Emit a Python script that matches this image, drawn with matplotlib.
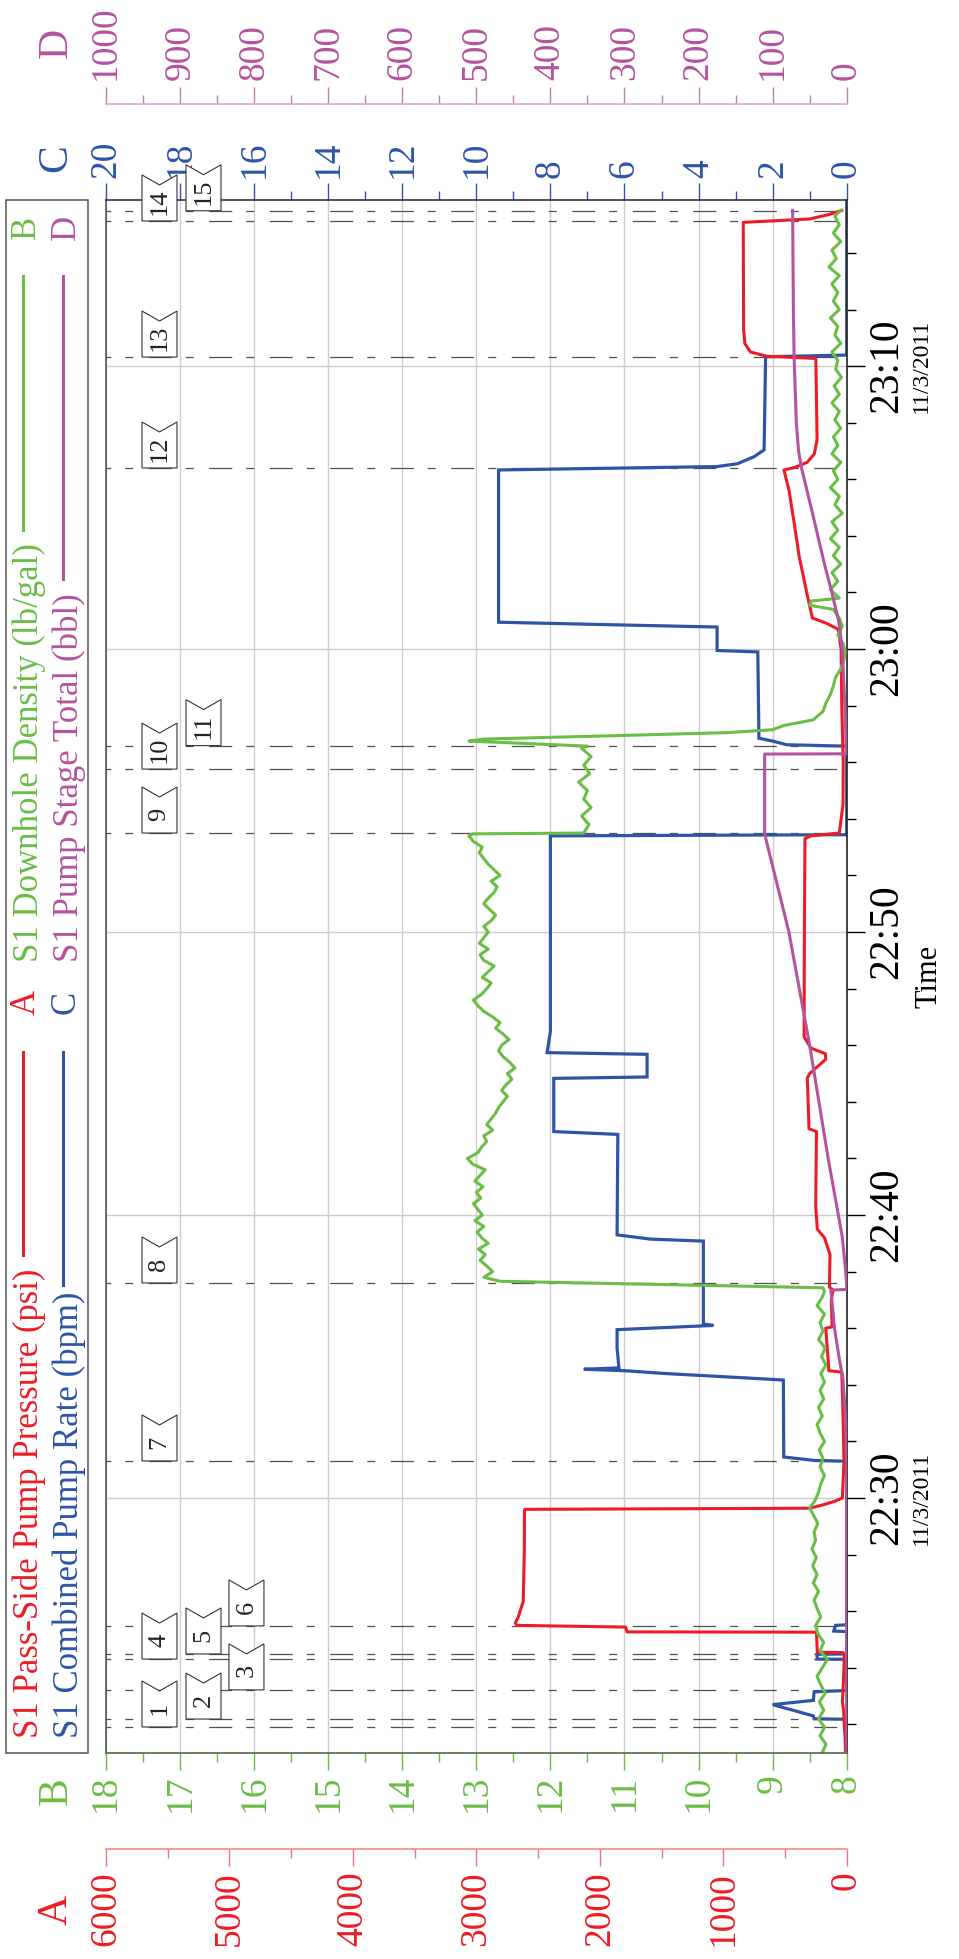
import matplotlib
matplotlib.use("Agg")
import matplotlib.pyplot as plt
import matplotlib.transforms as mtransforms
from matplotlib.patches import Polygon, Rectangle
from matplotlib.lines import Line2D
from matplotlib.ticker import MultipleLocator

plt.rcParams["font.family"] = ["Liberation Serif", "DejaVu Serif"]

# time is in minutes after 22:30 on 11/3/2011
t_press = [-9.01, -8.5, -8.0, -7.5, -7.2, -6.8, -6.0, -5.6, -5.46, -5.45, -4.74, -4.73,
           -4.56, -4.5, -4.42, -4.2, -3.65, -2.0, -0.5, -0.4, -0.36, -0.25, -0.12, 0.0,
           1.3, 3.0, 4.45, 4.5, 5.0, 6.0, 6.05, 7.0, 7.35, 7.45, 8.0, 8.6, 9.2, 9.5, 10.3,
           12.95, 13.05, 14.85, 15.0, 15.5, 15.7, 15.9, 16.3, 20.0, 23.3, 23.4, 23.5, 24.5,
           26.0, 28.0, 30.0, 30.7, 30.9, 31.1, 31.9, 33.3, 34.5, 35.6, 36.33, 36.42, 36.6,
           36.9, 37.4, 40.27, 40.35, 40.5, 40.8, 41.3, 45.08, 45.2, 45.35, 45.5]
pressure = [10, 12, 20, 25, 35, 30, 22, 20, 30, 238, 245, 1780,
            1790, 2670, 2685, 2660, 2620, 2612, 2610, 2608, 300, 200, 100, 35,
            22, 30, 40, 145, 152, 170, 118, 125, 110, 140, 138, 135, 180, 238, 251,
            245, 305, 319, 300, 170, 172, 290, 345, 343, 338, 290, 60, 30,
            28, 40, 45, 70, 157, 278, 319, 386, 427, 467, 508, 420, 320,
            262, 240, 250, 650, 780, 825, 835, 838, 300, 150, 40]

# downhole density, (time, lb/gal) pairs
density_pts = [
    (-9.0, 8.33), (-8.7, 8.28), (-8.4, 8.36), (-8.1, 8.30), (-7.8, 8.38), (-7.5, 8.31),
    (-7.2, 8.37), (-6.9, 8.29), (-6.6, 8.35), (-6.3, 8.40), (-6.0, 8.33), (-5.7, 8.26),
    (-5.4, 8.36), (-5.1, 8.31), (-4.8, 8.39), (-4.5, 8.42), (-4.2, 8.35), (-3.9, 8.40),
    (-3.6, 8.44), (-3.3, 8.38), (-3.0, 8.45), (-2.7, 8.40), (-2.4, 8.46), (-2.1, 8.41),
    (-1.8, 8.47), (-1.5, 8.42), (-1.2, 8.44), (-0.9, 8.39), (-0.6, 8.45), (-0.35, 8.50),
    (-0.1, 8.43), (0.2, 8.38), (0.5, 8.35), (0.8, 8.30), (1.1, 8.36), (1.4, 8.32),
    (1.7, 8.37), (2.0, 8.30), (2.3, 8.36), (2.6, 8.40), (2.9, 8.33), (3.2, 8.38),
    (3.5, 8.31), (3.8, 8.36), (4.1, 8.30), (4.4, 8.35), (4.7, 8.28), (5.0, 8.34),
    (5.3, 8.29), (5.6, 8.38), (5.9, 8.32), (6.2, 8.36), (6.5, 8.30), (6.8, 8.40),
    (7.1, 8.33), (7.3, 8.30), (7.43, 8.32),
    (7.66, 12.68), (7.8, 12.90), (8.0, 12.78), (8.2, 12.86), (8.4, 12.95), (8.6, 12.88),
    (8.8, 12.97), (9.0, 12.84), (9.2, 12.93), (9.4, 12.99), (9.6, 12.90), (9.8, 13.02),
    (10.0, 12.92), (10.2, 12.98), (10.4, 13.04), (10.6, 12.94), (10.8, 13.00), (11.0, 12.91),
    (11.2, 13.02), (11.4, 12.95), (11.6, 12.88), (11.8, 13.05), (12.0, 13.12), (12.2, 12.98),
    (12.4, 12.93), (12.6, 12.86), (12.8, 12.90), (13.0, 12.78), (13.2, 12.86), (13.4, 12.80),
    (13.6, 12.74), (13.8, 12.70), (14.0, 12.64), (14.2, 12.58), (14.4, 12.66), (14.6, 12.60),
    (14.8, 12.52), (15.0, 12.58), (15.2, 12.48), (15.4, 12.55), (15.6, 12.64), (15.8, 12.70),
    (16.0, 12.66), (16.2, 12.56), (16.4, 12.64), (16.6, 12.74), (16.8, 12.68), (17.0, 12.78),
    (17.2, 12.90), (17.4, 12.98), (17.6, 13.04), (17.8, 12.93), (18.0, 12.86), (18.2, 12.80),
    (18.4, 12.92), (18.6, 12.84), (18.8, 12.76), (19.0, 12.90), (19.2, 12.95), (19.4, 12.84),
    (19.6, 12.96), (19.8, 12.90), (20.0, 12.84), (20.2, 12.90), (20.4, 12.80), (20.6, 12.74),
    (20.8, 12.82), (21.0, 12.90), (21.2, 12.84), (21.4, 12.76), (21.6, 12.72), (21.8, 12.80),
    (22.0, 12.68), (22.2, 12.76), (22.4, 12.84), (22.6, 12.90), (22.8, 12.96), (23.0, 12.92),
    (23.2, 13.04), (23.4, 13.10), (23.47, 13.05),
    (23.5, 11.55), (23.8, 11.48), (24.1, 11.58), (24.4, 11.45), (24.7, 11.55), (25.0, 11.50),
    (25.3, 11.62), (25.6, 11.47), (25.9, 11.55), (26.2, 11.45), (26.5, 11.58), (26.57, 11.50),
    (26.75, 13.10), (26.82, 12.90), (26.95, 11.0), (27.05, 9.6), (27.15, 9.0), (27.3, 8.85),
    (27.5, 8.45), (27.8, 8.32), (28.1, 8.28), (28.4, 8.22), (28.7, 8.18), (29.0, 8.15),
    (29.3, 8.08), (29.6, 8.04), (29.9, 8.02), (30.2, 8.05), (30.5, 8.12), (30.8, 8.06),
    (31.1, 8.10), (31.4, 8.18), (31.55, 8.50), (31.7, 8.48), (31.8, 8.10), (32.1, 8.22),
    (32.4, 8.12), (32.7, 8.20), (33.0, 8.08), (33.3, 8.18), (33.6, 8.10), (33.9, 8.22),
    (34.2, 8.12), (34.5, 8.20), (34.8, 8.06), (35.1, 8.16), (35.4, 8.10), (35.7, 8.22),
    (36.0, 8.12), (36.3, 8.18), (36.6, 8.08), (36.9, 8.20), (37.2, 8.12), (37.5, 8.18),
    (37.8, 8.08), (38.1, 8.16), (38.4, 8.10), (38.7, 8.20), (39.0, 8.10), (39.3, 8.17),
    (39.6, 8.07), (39.9, 8.15), (40.2, 8.12), (40.5, 8.20), (40.8, 8.08), (41.1, 8.16),
    (41.4, 8.12), (41.7, 8.22), (42.0, 8.10), (42.3, 8.18), (42.6, 8.12), (42.9, 8.20),
    (43.2, 8.10), (43.5, 8.24), (43.8, 8.14), (44.1, 8.20), (44.4, 8.08), (44.7, 8.18),
    (45.0, 8.10), (45.3, 8.16), (45.5, 8.08),
]
t_dens = [p[0] for p in density_pts]
density = [p[1] for p in density_pts]

t_rate = [-9.01, -7.82, -7.80, -7.70, -7.30, -7.15, -6.85, -6.80, -5.70, -5.69, -5.52, -5.51,
          -4.72, -4.70, -4.50, -4.48, 1.30, 1.33, 1.45, 4.17, 4.25, 4.40, 4.50, 4.55, 4.60,
          5.30, 5.95, 6.10, 6.15, 9.08, 9.15, 9.30, 12.85, 12.95, 14.83, 14.88, 15.68, 15.74,
          16.5, 23.40, 23.44, 26.57, 26.62, 26.75, 26.85, 29.90, 29.95, 30.78, 30.85, 30.95,
          36.33, 36.45, 36.55, 36.8, 37.04, 40.33, 40.39, 45.87]
rate = [0.0, 0.0, 0.88, 0.90, 2.0, 0.90, 0.88, 0.0, 0.0, 0.8, 0.8, 0.0,
        0.0, 0.35, 0.30, 0.0, 0.0, 0.88, 1.70, 1.71, 2.8, 4.9, 6.0, 7.1, 6.15,
        6.2, 6.2, 3.6, 3.87, 3.87, 5.3, 6.2, 6.18, 7.91, 7.91, 5.39, 5.39, 8.09,
        8.0, 8.0, 0.0, 0.0, 1.62, 2.0, 2.37, 2.40, 3.5, 3.5, 6.0, 9.4,
        9.4, 3.5, 2.95, 2.5, 2.23, 2.19, 0.0, 0.0]

t_stage = [-9.01, 1.30, 3.0, 4.2, 5.0, 6.0, 7.0, 7.35, 7.37, 7.6, 8.2, 9.23, 12.0, 16.0,
           20.0, 23.47, 26.29, 26.30, 27.0, 28.0, 30.0, 30.95, 32.0, 33.0, 34.0, 35.0, 36.4,
           37.0, 38.0, 40.3, 42.0, 45.5]
stage = [0, 0, 2.0, 5.0, 10.5, 16.5, 20.0, 21.5, 0.0, 0.2, 2.0, 6.0, 25.0, 50.0,
         78.0, 110.8, 110.8, 0.5, 1.2, 2.5, 6.0, 10.5, 20.0, 30.0, 39.0, 48.0, 61.0,
         65.0, 68.0, 71.0, 72.0, 73.0]

# numbered event flags: time and column of the flag
ev_t = [-8.09, -7.81, -6.78, -5.69, -5.51, -4.52, 1.31, 7.60, 23.50, 25.76, 26.59,
        36.40, 40.32, 45.13, 45.49]
ev_col = [0, 1, 2, 0, 1, 2, 0, 0, 0, 0, 1, 0, 0, 0, 1]

time_ticks = [0, 10, 20, 30, 40]
time_labels = ["22:30", "22:40", "22:50", "23:00", "23:10"]
date_ticks = [0, 40]
date_label = "11/3/2011"

legend_labels = ["S1 Pass-Side Pump Pressure (psi)", "S1 Combined Pump Rate (bpm)",
                 "S1 Downhole Density (lb/gal)", "S1 Pump Stage Total (bbl)"]
legend_keys = ["A", "C", "B", "D"]

RED = "#ed1c24"
GREEN = "#6abd45"
BLUE = "#2e55a5"
MAGENTA = "#b4539e"

W, H, DPI = 959, 1959, 100
L, R, T, B = 106, 846.7, 200, 1753


def fx(px):
    return px / W


def fy(py):
    return 1 - py / H


fig = plt.figure(figsize=(W / DPI, H / DPI), dpi=DPI)
axC = fig.add_axes([fx(L), fy(B), (R - L) / W, (B - T) / H])
axA = axC.twiny()
axB = axC.twiny()
axD = axC.twiny()

axC.set_xlim(20, 0)
axA.set_xlim(6000, 0)
axB.set_xlim(18, 8)
axD.set_xlim(1000, 0)
axC.set_ylim(-9.01, 45.87)

# grid and frame on the rate axes (bottom-most)
axC.set_axisbelow(True)
axC.grid(True, which="major", color="#cccccc", lw=1.0)
axC.spines["bottom"].set_visible(False)
axC.spines["left"].set_color("#555555")
axC.spines["right"].set_color("#222222")
axC.spines["top"].set_color("#333344")
for sp in ("left", "right", "top"):
    axC.spines[sp].set_linewidth(1.2)

axC.xaxis.set_ticks_position("top")
axC.xaxis.set_major_locator(MultipleLocator(2))
axC.xaxis.set_minor_locator(MultipleLocator(1))
axC.tick_params(axis="x", which="both", direction="out", color=BLUE, width=1,
                labelcolor=BLUE, labelsize=27, labelrotation=90, pad=4,
                bottom=False, labelbottom=False, top=True, labeltop=True)
axC.tick_params(axis="x", which="major", length=12)
axC.tick_params(axis="x", which="minor", length=6.5)

axC.set_yticks(time_ticks, time_labels, rotation=90, va="center", fontsize=30)
axC.yaxis.set_minor_locator(MultipleLocator(2))
axC.tick_params(axis="y", which="both", direction="out", color="black", width=1,
                left=False, labelleft=False, right=True, labelright=True, pad=2)
axC.tick_params(axis="y", which="major", length=13)
axC.tick_params(axis="y", which="minor", length=6.5)
for t in date_ticks:
    axC.text(1.101, t, date_label, transform=axC.get_yaxis_transform(), rotation=90,
             ha="center", va="center", fontsize=17)
axC.text(1.111, 0.5, "Time", transform=axC.transAxes, rotation=90,
         ha="center", va="center", fontsize=22)


def style_twin(ax, side, color, tickcolor, spinecolor, outward):
    for sp in ("left", "right", "top", "bottom"):
        ax.spines[sp].set_visible(sp == side)
    ax.spines[side].set_color(spinecolor)
    ax.spines[side].set_linewidth(1.2)
    if outward:
        ax.spines[side].set_position(("outward", outward))
    ax.xaxis.set_ticks_position(side)
    on_top = side == "top"
    ax.tick_params(axis="x", which="both", direction="out", color=tickcolor, width=1,
                   labelcolor=color, labelsize=27, labelrotation=90,
                   top=on_top, labeltop=on_top, bottom=not on_top, labelbottom=not on_top)
    ax.tick_params(axis="x", which="major", length=12)
    ax.tick_params(axis="x", which="minor", length=6.5)


style_twin(axA, "bottom", RED, "#f07579", "#f38a8d", 69)
axA.xaxis.set_major_locator(MultipleLocator(1000))
axA.xaxis.set_minor_locator(MultipleLocator(500))
axA.tick_params(axis="x", pad=4)

style_twin(axB, "bottom", GREEN, GREEN, "#4f6b45", 0)
axB.xaxis.set_major_locator(MultipleLocator(1))
axB.xaxis.set_minor_locator(MultipleLocator(0.5))
axB.tick_params(axis="x", pad=3.5)

style_twin(axD, "top", MAGENTA, "#c27bb5", "#dca5d3", 69)
axD.xaxis.set_major_locator(MultipleLocator(100))
axD.xaxis.set_minor_locator(MultipleLocator(50))
axD.tick_params(axis="x", pad=5.5)

# event lines and flags
flag_w, flag_h, notch = 0.35, 0.46, 0.10
col_x = [0.0486, 0.108, 0.166]
for num, (t, c) in enumerate(zip(ev_t, ev_col), start=1):
    axC.axhline(t, color="#505050", lw=0.9, ls=(14.6, (18.4, 11.2, 6.4, 12.4)), zorder=1.2)
    base = fig.dpi_scale_trans + mtransforms.ScaledTranslation(
        col_x[c], t, axC.get_yaxis_transform())
    flag = Polygon([(0, 0), (flag_w, 0), (flag_w, flag_h), (flag_w / 2, flag_h - notch),
                    (0, flag_h)], closed=True, transform=base, fc="white", ec="#333333",
                   lw=0.8, zorder=5)
    fig.add_artist(flag)
    fig.text(flag_w / 2, 0.19, str(num), transform=base, rotation=90, ha="center",
             va="center", fontsize=19, color="#222222", zorder=6)

# data
axC.plot(rate, t_rate, color=BLUE, lw=2.3, solid_joinstyle="miter")
axA.plot(pressure, t_press, color=RED, lw=2.2)
axB.plot(density, t_dens, color=GREEN, lw=2.2)
axD.plot(stage, t_stage, color=MAGENTA, lw=2.2)

# axis letters
for key, py, col in (("A", 1910, RED), ("B", 1791, GREEN), ("C", 158, BLUE), ("D", 43, MAGENTA)):
    fig.text(fx(56), fy(py), key, rotation=90, ha="center", va="center",
             fontsize=30, color=col)

# legend
fig.add_artist(Rectangle((fx(6), fy(1753)), (88 - 6) / W, (1753 - 200) / H,
                         transform=fig.transFigure, fc="white", ec="#555555",
                         lw=1.1, zorder=4))
leg_colors = [RED, BLUE, GREEN, MAGENTA]
leg_text_x = [29, 69, 29, 69]
leg_start = [1738, 1738, 962, 962]
leg_line = [(1255, 1052), (1285, 1052), (530, 276), (579, 276)]
leg_key_y = [1002, 1002, 227, 227]
for i, label in enumerate(legend_labels):
    fig.text(fx(leg_text_x[i]), fy(leg_start[i]), label, rotation=90, ha="center",
             va="bottom", fontsize=25, color=leg_colors[i], zorder=6)
    lx = leg_text_x[i] - 6
    fig.add_artist(Line2D([fx(lx), fx(lx)], [fy(leg_line[i][0]), fy(leg_line[i][1])],
                          transform=fig.transFigure, color=leg_colors[i], lw=2.2, zorder=6))
    fig.text(fx(leg_text_x[i] - 3), fy(leg_key_y[i]), legend_keys[i], rotation=90,
             ha="center", va="center", fontsize=25, color=leg_colors[i], zorder=6)

fig.savefig("out.png", dpi=DPI)
